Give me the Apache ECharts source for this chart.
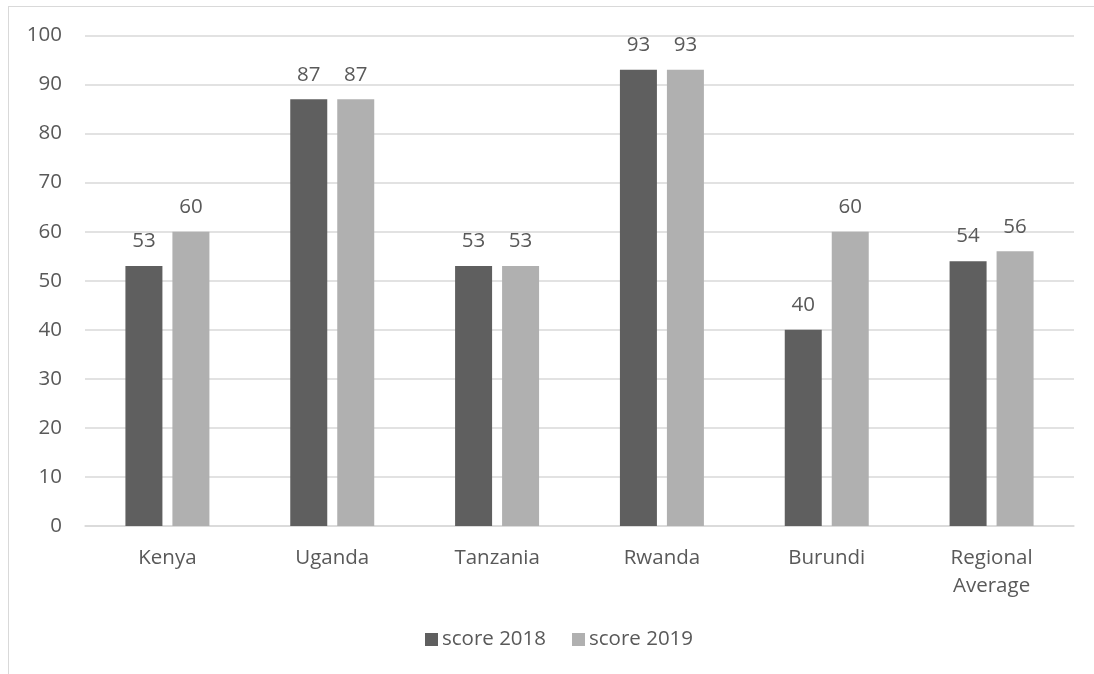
<!DOCTYPE html>
<html>
<head>
<meta charset="utf-8">
<script src="https://cdn.jsdelivr.net/npm/echarts@6/dist/echarts.min.js"></script>
<style>
  html, body { margin: 0; padding: 0; background: #ffffff; }
  #frame {
    position: absolute; left: 8px; top: 6px; width: 1100px; height: 680px;
    border: 1px solid #d9d9d9; box-sizing: border-box;
  }
  #chart { position: absolute; left: 0; top: 0; width: 1094px; height: 674px; }
</style>
</head>
<body>
<div id="frame"></div>
<div id="chart"></div>
<script>
// Scores per country, two survey years
const categories = ['Kenya', 'Uganda', 'Tanzania', 'Rwanda', 'Burundi', 'Regional\nAverage'];
const score2018 = [53, 87, 53, 93, 40, 54];
const score2019 = [60, 87, 53, 93, 60, 56];
const yTicks = { min: 0, max: 100, interval: 10 };

const FONT = 'Open Sans';
const TEXT = '#595959';
const SIZE = 20.5;

const chart = echarts.init(document.getElementById('chart'), null, { renderer: 'canvas' });

const labelStyle = {
  show: true,
  position: 'top',
  distance: 14,
  color: TEXT,
  fontFamily: FONT,
  fontSize: SIZE
};

chart.setOption({
  animation: false,
  textStyle: { fontFamily: FONT, color: TEXT },
  grid: { left: 85, right: 20, top: 35.5, bottom: 148, containLabel: false },
  legend: {
    left: 420, top: 624,
    itemWidth: 13, itemHeight: 13, itemGap: 26,
    icon: 'rect',
    textStyle: { fontFamily: FONT, fontSize: SIZE, color: TEXT, padding: [0, 0, 0, -1] },
    data: ['score 2018', 'score 2019']
  },
  xAxis: {
    type: 'category',
    data: categories,
    axisLine: { lineStyle: { color: '#d9d9d9', width: 1.5 } },
    axisTick: { show: false },
    axisLabel: { color: TEXT, fontFamily: FONT, fontSize: SIZE, margin: 18, lineHeight: 28 }
  },
  yAxis: {
    type: 'value',
    min: yTicks.min, max: yTicks.max, interval: yTicks.interval,
    axisLine: { show: false },
    axisTick: { show: false },
    splitLine: { lineStyle: { color: '#d9d9d9', width: 1.5 } },
    axisLabel: { color: TEXT, fontFamily: FONT, fontSize: SIZE, margin: 23 }
  },
  series: [
    {
      name: 'score 2018', type: 'bar', data: score2018,
      barWidth: 37, barGap: '27%',
      itemStyle: { color: '#5f5f5f' },
      label: labelStyle
    },
    {
      name: 'score 2019', type: 'bar', data: score2019,
      barWidth: 37,
      itemStyle: { color: '#b0b0b0' },
      label: labelStyle
    }
  ]
});
</script>
</body>
</html>
